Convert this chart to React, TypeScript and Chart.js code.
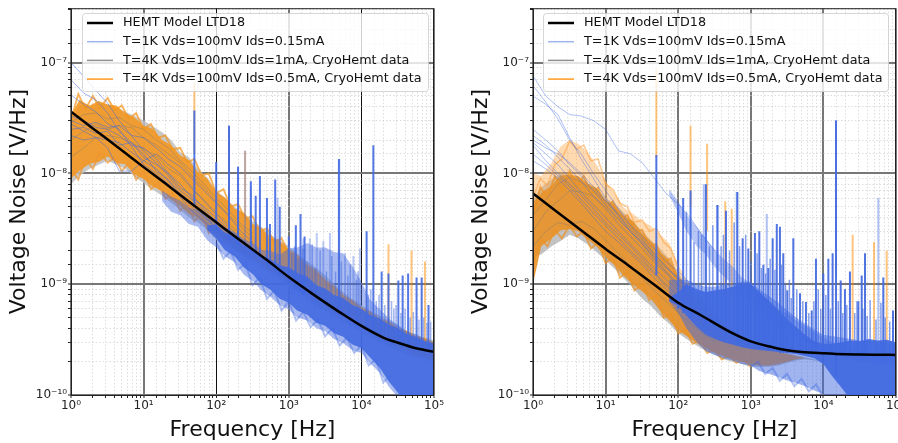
import React, { useEffect, useRef } from "react";
import { Chart, registerables } from "chart.js";

Chart.register(...registerables);

const FONT = "'DejaVu Sans', sans-serif";
const BLUE = "65,105,225";
const ORANGE = "255,140,0";
const GREY = "128,128,128";

const legendLabels = ["HEMT Model LTD18", "T=1K Vds=100mV Ids=0.15mA", "T=4K Vds=100mV Ids=1mA, CryoHemt data", "T=4K Vds=100mV Ids=0.5mA, CryoHemt data"];
const legendColors = ["#000000", "#a0b4f0", "#909090", "#ff9a20"];
const superscripts: Record<string, string> = { "0": "⁰", "1": "¹", "2": "²", "3": "³", "4": "⁴", "5": "⁵", "6": "⁶", "7": "⁷", "8": "⁸", "9": "⁹", "-": "⁻" };

// frequency grids
const bandFreq = [1, 1.3, 1.8, 2.4, 3.2, 4.2, 5.6, 7.5, 10, 13, 18, 24, 32, 42, 56, 75, 100, 130, 180, 240, 320, 420, 560, 750, 1e3, 1.3e3, 1.8e3, 2.4e3, 3.2e3, 4.2e3, 5.6e3, 7.5e3, 1e4, 1.3e4, 1.8e4, 2.4e4, 3.2e4, 4.2e4, 5.6e4, 7.5e4, 1e5];
const midFreq = [18, 24, 32, 42, 56, 75, 100, 130, 180, 240, 320, 420, 560, 750, 1e3, 1.3e3, 1.8e3, 2.4e3, 3.2e3, 4.2e3, 5.6e3, 7.5e3, 1e4, 1.3e4, 1.8e4, 2.4e4, 3.2e4, 4.2e4, 5.6e4, 7.5e4, 1e5];
const highFreq = [75, 100, 130, 180, 240, 320, 420, 560, 750, 1e3, 1.3e3, 1.8e3, 2.4e3, 3.2e3, 4.2e3, 5.6e3, 7.5e3, 1e4, 1.3e4, 1.8e4, 2.4e4, 3.2e4, 4.2e4, 5.6e4, 7.5e4, 1e5];
const traceFreq = [1, 1.5, 2.2, 3.2, 4.6, 6.8, 10, 15, 22, 32, 46, 68, 100, 150, 220, 320];
const modelFreq = [1, 2, 5, 10, 20, 50, 100, 200, 500, 1e3, 2e3, 3e3, 5e3, 1e4, 2e4, 3e4, 5e4, 1e5];
const lowFringeFreq = [1, 1.26, 1.58, 2, 2.5, 3.2, 4, 5, 6.3, 7.9, 10, 12.6, 15.8, 20, 25, 32, 40, 50, 63, 79, 100, 126, 158, 200, 251, 316, 398, 501, 631, 794, 1000];
const midFringeFreq = [100, 126, 158, 200, 251, 316, 398, 501, 631, 794, 1000, 1260, 1580, 2000, 2510, 3160, 3980, 5010, 6310, 7940, 1e4, 1.26e4, 1.58e4, 2e4, 2.5e4];
const rightFringeFreq = [1000, 1260, 1580, 2000, 2510, 3160, 3980, 5010, 6310, 7940, 1e4];

// left panel
const leftModel = [3.6e-8, 2.55e-8, 1.62e-8, 1.14e-8, 8.1e-9, 5.1e-9, 3.62e-9, 2.57e-9, 1.65e-9, 1.16e-9, 8.4e-10, 7e-10, 5.6e-10, 4.2e-10, 3.3e-10, 3e-10, 2.7e-10, 2.45e-10];
const leftGreyUpper = [3e-8, 4.2e-8, 4e-8, 4.3e-8, 4.2e-8, 3.9e-8, 3.6e-8, 3.3e-8, 3e-8, 2.7e-8, 2.35e-8, 2e-8, 1.55e-8, 1.4e-8, 1.1e-8, 9.2e-9, 7e-9, 6.1e-9, 5e-9, 4.4e-9, 3.7e-9, 3.3e-9, 2.8e-9, 2.5e-9, 2.2e-9, 1.9e-9, 1.6e-9, 1.4e-9, 1.2e-9, 1e-9, 8.5e-10, 7.3e-10, 6.5e-10, 5.8e-10, 5.2e-10, 4.7e-10, 4.2e-10, 3.8e-10, 3.5e-10, 3.3e-10, 3.1e-10];
const leftGreyLower = [8e-9, 9.5e-9, 1.1e-8, 1.2e-8, 1.3e-8, 1.2e-8, 1.1e-8, 9.4e-9, 8.2e-9, 7.2e-9, 6.3e-9, 5.4e-9, 4.7e-9, 4e-9, 3.6e-9, 3.1e-9, 2.5e-9, 2.3e-9, 2e-9, 1.8e-9, 1.6e-9, 1.4e-9, 1.25e-9, 1.1e-9, 9.5e-10, 8.5e-10, 7.5e-10, 6.5e-10, 5.8e-10, 5.2e-10, 4.6e-10, 4.1e-10, 3.7e-10, 3.3e-10, 3e-10, 2.7e-10, 2.5e-10, 2.3e-10, 2.2e-10, 2.1e-10, 2e-10];
const leftOrangeUpper = [3.3e-8, 4.6e-8, 4.1e-8, 4.5e-8, 4.2e-8, 4.1e-8, 3.5e-8, 3.2e-8, 2.7e-8, 2.55e-8, 2e-8, 1.8e-8, 1.45e-8, 1.32e-8, 1.03e-8, 9e-9, 6.8e-9, 6.1e-9, 4.8e-9, 4.4e-9, 3.5e-9, 3.2e-9, 2.65e-9, 2.45e-9, 2.05e-9, 1.85e-9, 1.5e-9, 1.33e-9, 1.1e-9, 9.7e-10, 8e-10, 7.2e-10, 6.2e-10, 5.7e-10, 4.9e-10, 4.6e-10, 4e-10, 3.8e-10, 3.4e-10, 3.25e-10, 3e-10];
const leftOrangeLower = [9e-9, 1.05e-8, 1.22e-8, 1.27e-8, 1.42e-8, 1.24e-8, 1.21e-8, 9.8e-9, 8.9e-9, 7.7e-9, 6.9e-9, 5.8e-9, 5.1e-9, 4.3e-9, 3.95e-9, 3.3e-9, 2.75e-9, 2.5e-9, 2.1e-9, 1.9e-9, 1.7e-9, 1.5e-9, 1.3e-9, 1.2e-9, 1e-9, 9e-10, 8e-10, 7e-10, 6.2e-10, 5.5e-10, 5e-10, 4.5e-10, 4e-10, 3.6e-10, 3.2e-10, 2.9e-10, 2.7e-10, 2.5e-10, 2.3e-10, 2.2e-10, 2e-10];
const leftOrangeTopFringe = [3e-8, 5.2e-8, 3.8e-8, 5e-8, 3.9e-8, 4.8e-8, 3.7e-8, 4.1e-8, 3.1e-8, 3.5e-8, 2.5e-8, 2.8e-8, 2.1e-8, 2.2e-8, 1.65e-8, 1.7e-8, 1.25e-8, 1.35e-8, 9.6e-9, 1e-8, 6.6e-9, 7.2e-9, 5e-9, 5.3e-9, 3.9e-9, 4.1e-9, 3e-9, 3.2e-9, 2.4e-9, 2.6e-9, 1.9e-9];
const leftOrangeLowFringe = [1.1e-8, 8.8e-9, 1.35e-8, 1.1e-8, 1.55e-8, 1.25e-8, 1.4e-8, 1.05e-8, 1.25e-8, 8.8e-9, 1.05e-8, 7.2e-9, 8.2e-9, 5.9e-9, 6.6e-9, 4.6e-9, 5.5e-9, 3.7e-9, 4.3e-9, 2.9e-9, 3.5e-9];
const leftBlueLowFringe = [2.4e-9, 1.7e-9, 2e-9, 1.35e-9, 1.55e-9, 9.8e-10, 1.15e-9, 7.4e-10, 8.8e-10, 5.8e-10, 7e-10, 4.7e-10, 5.6e-10, 4.1e-10, 4.8e-10, 3.4e-10, 4e-10, 2.8e-10, 3.3e-10, 2.4e-10, 2.8e-10, 1.85e-10, 2.1e-10, 1.3e-10, 1.5e-10];
const leftLightUpper = [7e-9, 6.2e-9, 5.7e-9, 4.9e-9, 4.7e-9, 4e-9, 3.85e-9, 3.25e-9, 2.95e-9, 2.55e-9, 2.35e-9, 2.05e-9, 2e-9, 1.85e-9, 2.1e-9, 2.15e-9, 2.35e-9, 2.15e-9, 2.15e-9, 1.95e-9, 1.9e-9, 1.45e-9, 1.05e-9, 7.3e-10, 5.9e-10, 4.9e-10, 4.3e-10, 3.7e-10, 3.55e-10, 3.15e-10, 3e-10];
const leftLightLower = [5.6e-9, 4.5e-9, 4.2e-9, 3.5e-9, 3.3e-9, 2.5e-9, 2.15e-9, 1.8e-9, 1.58e-9, 1.22e-9, 1.07e-9, 8.8e-10, 7.7e-10, 6.5e-10, 5.9e-10, 5e-10, 4.7e-10, 4e-10, 3.75e-10, 3.2e-10, 2.95e-10, 2.55e-10, 2.4e-10, 1.95e-10, 1.58e-10, 1.18e-10, 9.5e-11, 7e-11, 5.5e-11, 4.5e-11, 4e-11];
const leftDenseUpper = [3.4e-9, 3.45e-9, 2.95e-9, 2.65e-9, 2.25e-9, 2.08e-9, 1.82e-9, 1.68e-9, 1.48e-9, 1.42e-9, 1.27e-9, 1.17e-9, 9.8e-10, 9.1e-10, 8e-10, 7.5e-10, 6.5e-10, 6e-10, 5.3e-10, 4.9e-10, 4.3e-10, 4e-10, 3.55e-10, 3.35e-10, 3.05e-10, 2.9e-10];
const leftDenseLower = [3.1e-9, 2.6e-9, 2.05e-9, 1.78e-9, 1.42e-9, 1.23e-9, 1e-9, 8.9e-10, 7.4e-10, 6.8e-10, 5.8e-10, 5.3e-10, 4.5e-10, 4.2e-10, 3.6e-10, 3.35e-10, 2.85e-10, 2.65e-10, 2.2e-10, 1.75e-10, 1.32e-10, 1.05e-10, 7.8e-11, 6e-11, 5e-11, 4.2e-11];
const leftBlueTraces = [
  [1e-7, 7.5e-8, 5.6e-8, 4.3e-8, 3e-8, 2.2e-8, 1.6e-8, 1.25e-8, 9.5e-9, 7e-9, 5.8e-9, 4.6e-9, 3.6e-9, 2.8e-9, 2.3e-9, 1.9e-9],
  [7e-8, 5.3e-8, 4.6e-8, 3.5e-8, 2.4e-8, 1.9e-8, 1.5e-8, 1.05e-8, 8.8e-9, 6.6e-9, 5.4e-9, 4.2e-9, 3.2e-9, 2.6e-9, 2.1e-9, 1.7e-9],
  [5.1e-8, 4.2e-8, 3.6e-8, 2.8e-8, 2.5e-8, 1.75e-8, 1.2e-8, 1e-8, 8e-9, 6.1e-9, 4.6e-9, 3.7e-9, 3e-9, 2.4e-9, 1.9e-9, 1.5e-9],
  [3.3e-8, 3e-8, 2.6e-8, 2.5e-8, 2.2e-8, 1.8e-8, 1.7e-8, 1.35e-8, 1e-8, 8e-9, 6e-9, 5e-9, 4e-9, 3.1e-9, 2.5e-9, 2e-9],
  [2.8e-8, 2.4e-8, 2.1e-8, 1.7e-8, 1.05e-8, 1.05e-8, 1.3e-8, 1.1e-8, 8.5e-9, 6.3e-9, 5e-9, 4.1e-9, 3.2e-9, 2.5e-9, 2e-9, 1.6e-9],
  [2.2e-8, 2e-8, 2.1e-8, 2e-8, 1.9e-8, 1.55e-8, 1.3e-8, 1.5e-8, 1.2e-8, 1e-8, 7.5e-9, 5.6e-9, 4.3e-9, 3.3e-9, 2.6e-9, 2.1e-9],
  [3e-8, 2.7e-8, 2.9e-8, 2.6e-8, 2.7e-8, 2.2e-8, 2.1e-8, 1.7e-8, 1.35e-8, 1.15e-8, 9e-9, 7e-9, 5.4e-9, 4.1e-9, 3e-9, 2.4e-9],
  [2.5e-8, 2.6e-8, 2.3e-8, 2.4e-8, 1.8e-8, 1.9e-8, 1.4e-8, 1.2e-8, 1e-8, 7.4e-9, 6.4e-9, 4.8e-9, 3.7e-9, 3e-9, 2.2e-9, 1.8e-9],
];
const leftGreyTraces = [
  [2e-8, 2.4e-8, 2.8e-8, 2.5e-8, 2.7e-8, 2.6e-8, 2.1e-8, 1.8e-8, 1.5e-8, 1.25e-8, 9.5e-9, 7.5e-9, 5.5e-9, 4.2e-9, 3.3e-9, 2.6e-9],
  [1.4e-8, 1.7e-8, 2.1e-8, 2.2e-8, 2.1e-8, 1.9e-8, 1.65e-8, 1.45e-8, 1.1e-8, 9.5e-9, 7.2e-9, 5.8e-9, 4.4e-9, 3.5e-9, 2.8e-9, 2.2e-9],
  [2.9e-8, 3.4e-8, 3.5e-8, 3.1e-8, 3.2e-8, 2.7e-8, 2.5e-8, 2e-8, 1.7e-8, 1.3e-8, 1.05e-8, 8e-9, 6e-9, 4.6e-9, 3.5e-9, 2.9e-9],
];
const leftBlueSpikeFreq = [50, 100, 150, 200, 300, 350, 400, 500, 550, 650, 750, 1000, 1250, 1450, 1650, 4900, 11800, 14600, 19000, 23600, 32300, 37000, 44000, 57500, 67600, 84000];
const leftBlueSpikePeak = [3.7e-8, 1.27e-8, 2.7e-8, 1.15e-8, 8.5e-9, 6.3e-9, 9.5e-9, 6e-9, 3.5e-9, 8.8e-9, 5e-9, 2.7e-9, 3.4e-9, 4.3e-9, 2.7e-9, 1.35e-8, 3e-9, 1.8e-8, 1.3e-9, 1.25e-9, 1.08e-9, 1.2e-9, 1.25e-9, 1.15e-9, 1.15e-9, 6.5e-10];
const leftBlueSpikeBase = [5e-9, 3e-9, 2.5e-9, 2.2e-9, 2e-9, 1.8e-9, 1.7e-9, 1.5e-9, 1.4e-9, 1.3e-9, 1.2e-9, 1e-9, 9e-10, 8.5e-10, 8e-10, 6e-10, 4e-10, 3.8e-10, 3.5e-10, 3.3e-10, 3e-10, 2.9e-10, 2.8e-10, 2.7e-10, 2.6e-10, 2.5e-10];
const leftLightSpikeFreq = [1585, 1950, 2430, 2990, 3690, 4970, 5940, 7760, 9560, 150, 200, 250, 300, 700];
const leftLightSpikePeak = [2.6e-9, 2.6e-9, 2.9e-9, 2.45e-9, 2.9e-9, 1.35e-8, 1.9e-9, 1.8e-9, 2.1e-9, 2.7e-8, 1.15e-8, 1.6e-8, 7.5e-9, 6e-9];
const leftLightSpikeBase = [8e-10, 8e-10, 8e-10, 7e-10, 7e-10, 6e-10, 6e-10, 6e-10, 5e-10, 2.5e-9, 2.2e-9, 2e-9, 1.9e-9, 1.2e-9];
const leftOrangeSpikeFreq = [50, 150, 250, 23600, 49000, 75000, 1e5];
const leftOrangeSpikePeak = [6.6e-8, 2.7e-8, 1.6e-8, 2.3e-9, 2e-9, 1.6e-9, 1e-8];
const leftOrangeSpikeBase = [1.5e-8, 6e-9, 4e-9, 4e-10, 3.5e-10, 3e-10, 1e-10];
const leftExtraFreq = [1100, 1200, 1350, 1550, 1800, 2100, 2300, 2700, 3300, 3900, 4400, 5300, 6500, 7000, 8500, 9000, 12500, 13500, 16000, 17500, 21000, 26000, 28000, 30000, 35000, 40000, 47000, 52000, 62000, 72000, 80000, 90000];
const leftExtraPeak = [1.9e-9, 2.2e-9, 1.7e-9, 2.1e-9, 1.6e-9, 2.3e-9, 1.4e-9, 2e-9, 1.3e-9, 1.8e-9, 1.3e-9, 1.6e-9, 1.2e-9, 1.5e-9, 1.1e-9, 1.3e-9, 8e-10, 9e-10, 7e-10, 8e-10, 6.5e-10, 7e-10, 6e-10, 6.5e-10, 5.5e-10, 6e-10, 5e-10, 5.6e-10, 4.8e-10, 5e-10, 4.5e-10, 4.6e-10];
const leftExtraBase = [8e-10, 8e-10, 7.5e-10, 7.5e-10, 7e-10, 6.5e-10, 6e-10, 6e-10, 5.5e-10, 5e-10, 5e-10, 4.5e-10, 4.5e-10, 4e-10, 4e-10, 3.8e-10, 3.5e-10, 3.5e-10, 3.2e-10, 3e-10, 3e-10, 2.8e-10, 2.8e-10, 2.8e-10, 2.6e-10, 2.6e-10, 2.5e-10, 2.5e-10, 2.4e-10, 2.4e-10, 2.3e-10, 2.3e-10];

// right panel
const rightModel = [6.6e-9, 4.65e-9, 2.95e-9, 2.08e-9, 1.5e-9, 9.6e-10, 6.8e-10, 5.3e-10, 3.75e-10, 3.05e-10, 2.7e-10, 2.55e-10, 2.45e-10, 2.38e-10, 2.33e-10, 2.32e-10, 2.31e-10, 2.3e-10];
const rightGreyUpper = [6e-9, 7.5e-9, 8.8e-9, 1e-8, 9.6e-9, 9.3e-9, 7.9e-9, 7.3e-9, 6e-9, 5.4e-9, 4.4e-9, 3.7e-9, 3e-9, 2.5e-9, 2.1e-9, 1.7e-9, 1.25e-9, 1e-9, 7.8e-10, 6.2e-10, 5.2e-10, 4.5e-10, 4e-10, 3.5e-10, 3.1e-10, 2.9e-10, 2.7e-10, 2.5e-10, 2.4e-10, 2.3e-10, 2.2e-10, 2.1e-10, 2e-10, 1.9e-10, 1.8e-10, 1.7e-10, 1.6e-10, 1.55e-10, 1.5e-10, 1.45e-10, 1.4e-10];
const rightGreyLower = [1.8e-9, 1.85e-9, 2.2e-9, 2.45e-9, 2.8e-9, 2.6e-9, 2.3e-9, 1.95e-9, 1.65e-9, 1.4e-9, 1.12e-9, 9.2e-10, 7.4e-10, 6.4e-10, 5.2e-10, 4.4e-10, 3.6e-10, 3.2e-10, 2.8e-10, 2.5e-10, 2.3e-10, 2.1e-10, 2e-10, 1.9e-10, 1.8e-10, 1.8e-10, 1.8e-10, 1.85e-10, 1.95e-10, 2.05e-10, 2.1e-10, 2.05e-10, 2e-10, 1.9e-10, 1.8e-10, 1.7e-10, 1.6e-10, 1.55e-10, 1.5e-10, 1.45e-10, 1.4e-10];
const rightOrangeUpper = [5.5e-9, 6.7e-9, 7.8e-9, 9.6e-9, 9.8e-9, 9.5e-9, 8.2e-9, 7.4e-9, 5.7e-9, 5.3e-9, 4.1e-9, 3.7e-9, 2.85e-9, 2.45e-9, 1.95e-9, 1.65e-9, 1.18e-9, 9.7e-10, 7.4e-10, 6.1e-10, 4.9e-10, 4.5e-10, 3.75e-10, 3.4e-10, 3e-10, 2.8e-10, 2.6e-10, 2.45e-10, 2.35e-10, 2.25e-10, 2.15e-10, 2.05e-10, 1.95e-10, 1.8e-10, 1.7e-10, 1.6e-10, 1.5e-10, 1.45e-10, 1.4e-10, 1.35e-10, 1.3e-10];
const rightOrangeLower = [1e-9, 2.2e-9, 2.6e-9, 3.05e-9, 3.15e-9, 3e-9, 2.55e-9, 2.2e-9, 1.75e-9, 1.5e-9, 1.18e-9, 9.9e-10, 8.6e-10, 7.4e-10, 5.8e-10, 4.7e-10, 3.85e-10, 3.4e-10, 2.95e-10, 2.65e-10, 2.4e-10, 2.25e-10, 2.1e-10, 2e-10, 1.9e-10, 1.85e-10, 1.85e-10, 1.9e-10, 2e-10, 2.1e-10, 2.15e-10, 2.05e-10, 1.95e-10, 1.8e-10, 1.7e-10, 1.6e-10, 1.5e-10, 1.45e-10, 1.4e-10, 1.35e-10, 1.3e-10];
const rightPaleOrangeUpper = [1e-8, 9.5e-9, 1.25e-8, 1.75e-8, 2e-8, 1.85e-8, 1.55e-8, 1.2e-8, 8.6e-9, 6.8e-9, 4.9e-9, 4.3e-9, 3.7e-9, 3.35e-9, 2.8e-9, 2.35e-9, 1.5e-9, 1.1e-9, 8.5e-10, 6.8e-10, 5.5e-10, 4.6e-10, 3.9e-10, 3.4e-10, 3e-10, 2.8e-10, 2.6e-10, 2.45e-10, 2.35e-10, 2.25e-10, 2.15e-10, 2.05e-10, 1.95e-10, 1.8e-10, 1.7e-10, 1.6e-10, 1.5e-10, 1.45e-10, 1.4e-10, 1.35e-10, 1.3e-10];
const rightOrangeTopFringe = [4e-9, 7.5e-9, 6e-9, 9.5e-9, 7e-9, 1.05e-8, 7.5e-9, 9.5e-9, 6.5e-9, 7.4e-9, 4.8e-9, 5.6e-9, 3.9e-9, 4.2e-9, 3e-9, 3.1e-9, 2.2e-9, 2.3e-9, 1.6e-9, 1.7e-9, 1.05e-9];
const rightOrangeLowFringe = [1.5e-9, 2.6e-9, 2.2e-9, 3.1e-9, 2.6e-9, 3.4e-9, 2.7e-9, 3e-9, 2.1e-9, 2.4e-9, 1.55e-9, 1.75e-9, 1.15e-9, 1.3e-9, 8.8e-10, 1e-9, 7.2e-10, 8e-10, 5e-10, 5.4e-10, 3.6e-10, 3.9e-10, 2.9e-10, 3.1e-10, 2.4e-10, 2.6e-10, 2.1e-10, 2.3e-10, 1.95e-10, 2.1e-10, 1.8e-10];
const rightPaleTrace = [6e-9, 9e-9, 7.8e-9, 1.2e-8, 1.35e-8, 1.95e-8, 1.65e-8, 1.8e-8, 1.3e-8, 1.35e-8, 8e-9, 7.2e-9, 5.4e-9, 5e-9, 3.6e-9, 3.8e-9, 3e-9, 3.2e-9, 2.4e-9, 2.1e-9, 1.4e-9];
const rightBlueLowFringe = [1.8e-10, 2e-10, 1.55e-10, 1.75e-10, 1.35e-10, 1.55e-10, 1.2e-10, 1.4e-10, 1.08e-10, 1.25e-10, 9.5e-11];
const rightTraceBandUpper = [7.2e-9, 5.6e-9, 4.2e-9, 3.3e-9, 2.6e-9, 2.05e-9, 1.7e-9, 1.45e-9, 1.15e-9, 1.02e-9, 8.6e-10, 7.1e-10, 6e-10, 5.4e-10, 4.7e-10, 4.2e-10, 3.7e-10, 3.3e-10, 3e-10, 2.8e-10, 2.6e-10, 2.5e-10, 2.4e-10, 2.35e-10, 2.3e-10, 2.3e-10];
const rightTraceBandLower = [6.4e-9, 4.4e-9, 3e-9, 2.2e-9, 1.85e-9, 1.42e-9, 1.18e-9, 1e-9, 8e-10, 7e-10, 5.9e-10, 5e-10, 4.2e-10, 3.8e-10, 3.3e-10, 3e-10, 2.7e-10, 2.5e-10, 2.3e-10, 2.2e-10, 2.1e-10, 2e-10, 2e-10, 1.9e-10, 1.9e-10, 1.9e-10];
const rightLightUpper = [1.1e-9, 1.1e-9, 1.1e-9, 1e-9, 9.5e-10, 9.5e-10, 1e-9, 1e-9, 1.05e-9, 1.05e-9, 9e-10, 7.8e-10, 6.8e-10, 5.8e-10, 5e-10, 4.4e-10, 3.9e-10, 3.5e-10, 3.4e-10, 3.3e-10, 3.2e-10, 3.1e-10, 3.1e-10, 3e-10, 3e-10, 2.9e-10];
const rightLightLower = [7e-10, 5.5e-10, 4e-10, 3e-10, 2.5e-10, 2.3e-10, 2.15e-10, 2.05e-10, 1.9e-10, 1.85e-10, 1.65e-10, 1.55e-10, 1.45e-10, 1.35e-10, 1.28e-10, 1.2e-10, 1.1e-10, 1.02e-10, 8.8e-11, 7.5e-11, 6e-11, 5e-11, 4.5e-11, 4e-11, 4e-11, 4e-11];
const rightDenseUpper = [7.5e-10, 8.5e-10, 1e-9, 9e-10, 8.5e-10, 8.8e-10, 9e-10, 9.5e-10, 1e-9, 1e-9, 8.5e-10, 7e-10, 5.8e-10, 4.8e-10, 4.1e-10, 3.5e-10, 3.05e-10, 2.9e-10, 2.9e-10, 3e-10, 3.1e-10, 3.05e-10, 3.2e-10, 3.1e-10, 3.15e-10, 3e-10];
const rightDenseLower = [7e-10, 6.4e-10, 5.2e-10, 4.1e-10, 3.5e-10, 3.2e-10, 3e-10, 2.85e-10, 2.7e-10, 2.6e-10, 2.55e-10, 2.5e-10, 2.45e-10, 2.4e-10, 2.35e-10, 2.25e-10, 2.15e-10, 1.9e-10, 1.5e-10, 1.15e-10, 9e-11, 7e-11, 6e-11, 5e-11, 5e-11, 5e-11];
const rightBlueTraces = [
  [7.6e-8, 5e-8, 4e-8, 3.4e-8, 3.3e-8, 3e-8, 2.5e-8, 1.6e-8, 1.5e-8, 1.25e-8, 9.2e-9, 6.6e-9, 5.3e-9, 3.9e-9, 2.7e-9, 2e-9],
  [6.2e-8, 4.4e-8, 3.1e-8, 2e-8, 1.5e-8, 1e-8, 7e-9, 4.8e-9, 3.4e-9, 2.7e-9, 2.1e-9, 1.6e-9, 1.3e-9, 1e-9, 8.2e-10, 6.8e-10],
  [5e-8, 4.2e-8, 3.4e-8, 2.1e-8, 1.35e-8, 9e-9, 6e-9, 4.2e-9, 3e-9, 2.4e-9, 1.8e-9, 1.4e-9, 1.15e-9, 9e-10, 7.4e-10, 6.2e-10],
  [2.5e-8, 2e-8, 1.6e-8, 1.2e-8, 9.5e-9, 7e-9, 5.2e-9, 3.9e-9, 3e-9, 2.3e-9, 1.7e-9, 1.3e-9, 1e-9, 8e-10, 6.6e-10, 5.6e-10],
  [2.2e-8, 1.8e-8, 1.4e-8, 1.1e-8, 8.5e-9, 6.2e-9, 4.8e-9, 3.5e-9, 2.7e-9, 2.1e-9, 1.6e-9, 1.25e-9, 9.5e-10, 7.6e-10, 6.2e-10, 5.2e-10],
  [2e-8, 1.7e-8, 1.5e-8, 1.25e-8, 1e-8, 7.6e-9, 5.6e-9, 4.2e-9, 3.2e-9, 2.5e-9, 1.9e-9, 1.45e-9, 1.1e-9, 8.6e-10, 7e-10, 5.8e-10],
  [1.9e-8, 1.5e-8, 1.2e-8, 9e-9, 6.8e-9, 5.2e-9, 4e-9, 3e-9, 2.3e-9, 1.8e-9, 1.4e-9, 1.1e-9, 8.8e-10, 7e-10, 5.8e-10, 4.8e-10],
  [1.8e-8, 1.3e-8, 1e-8, 8e-9, 6.4e-9, 4.8e-9, 3.6e-9, 2.8e-9, 2.2e-9, 1.7e-9, 1.3e-9, 1e-9, 8e-10, 6.4e-10, 5.4e-10, 4.6e-10],
  [1.5e-8, 1.2e-8, 9.5e-9, 7.6e-9, 5.8e-9, 4.4e-9, 3.4e-9, 2.6e-9, 2e-9, 1.6e-9, 1.25e-9, 9.6e-10, 7.6e-10, 6.2e-10, 5.2e-10, 4.4e-10],
  [1.3e-8, 1.1e-8, 9e-9, 7e-9, 5.4e-9, 4e-9, 3e-9, 2.4e-9, 1.9e-9, 1.5e-9, 1.15e-9, 9e-10, 7.2e-10, 5.8e-10, 4.8e-10, 4.2e-10],
];
const rightGreyTraces = [
  [3e-9, 4.5e-9, 5.6e-9, 7e-9, 6.8e-9, 6.2e-9, 5e-9, 3.8e-9, 3e-9, 2.3e-9, 1.75e-9, 1.3e-9, 1e-9, 7.5e-10, 6e-10, 4.8e-10],
  [4.2e-9, 5.8e-9, 8e-9, 9.2e-9, 8.4e-9, 7e-9, 5.6e-9, 4.4e-9, 3.4e-9, 2.6e-9, 1.9e-9, 1.45e-9, 1.1e-9, 8.2e-10, 6.4e-10, 5.2e-10],
  [2.2e-9, 3e-9, 3.6e-9, 3.4e-9, 3.7e-9, 3.2e-9, 2.5e-9, 1.9e-9, 1.45e-9, 1.15e-9, 8.8e-10, 7e-10, 5.5e-10, 4.4e-10, 3.6e-10, 3e-10],
];
const rightBlueSpikeFreq = [50, 100, 117, 148, 241, 346, 455, 653, 773, 925, 1140, 1310, 1490, 1740, 2000, 2280, 2520, 2800, 3180, 3850, 4760, 5750, 6900, 7900, 9970, 11700, 13400, 14900, 17300, 19800, 23200, 30300, 33700, 37400, 66800, 91000];
const rightBlueSpikePeak = [1.47e-8, 5.2e-9, 6e-9, 7e-9, 8e-9, 5.2e-9, 4.6e-9, 6.8e-9, 2.6e-9, 2.1e-9, 2.9e-9, 3e-9, 1.5e-9, 1.4e-9, 2.6e-9, 3.5e-9, 3.3e-9, 1.9e-9, 8.8e-10, 2.6e-9, 8.3e-10, 6.9e-10, 5.8e-10, 1.7e-9, 1.25e-9, 1.7e-9, 1.9e-9, 3e-8, 1.08e-9, 9e-10, 1.3e-9, 7e-10, 1.2e-9, 1.9e-9, 1.15e-9, 5.8e-10];
const rightBlueSpikeBase = [1.2e-9, 6e-10, 5.5e-10, 5e-10, 4.2e-10, 3.8e-10, 3.4e-10, 3e-10, 2.9e-10, 2.8e-10, 2.7e-10, 2.6e-10, 2.6e-10, 2.5e-10, 2.5e-10, 2.5e-10, 2.4e-10, 2.4e-10, 2.4e-10, 2.4e-10, 2.4e-10, 2.4e-10, 2.3e-10, 2.3e-10, 2.3e-10, 2.3e-10, 2.3e-10, 1.5e-10, 2.3e-10, 2.3e-10, 2.3e-10, 2.3e-10, 2.3e-10, 2.3e-10, 2.3e-10, 2.3e-10];
const rightLightSpikeFreq = [225, 350, 640, 1660, 57100, 14900];
const rightLightSpikePeak = [8e-9, 5.2e-9, 6.8e-9, 4.3e-9, 6e-9, 3e-8];
const rightLightSpikeBase = [1e-9, 8e-10, 5e-10, 3e-10, 2.3e-10, 1.2e-9];
const rightOrangeSpikeFreq = [50, 148, 250, 445, 546, 25300, 49800, 74500, 1e5];
const rightOrangeSpikePeak = [8.7e-8, 2.7e-8, 1.85e-8, 5.6e-9, 4.8e-9, 2.8e-9, 2.4e-9, 2e-9, 1e-8];
const rightOrangeSpikeBase = [1.4e-8, 5e-9, 3e-9, 8e-10, 7e-10, 3e-10, 3e-10, 3e-10, 1e-10];
const rightExtraFreq = [130, 165, 190, 210, 270, 300, 390, 420, 510, 590, 700, 850, 1000, 1220, 1400, 1600, 1850, 2150, 2650, 3000, 3400, 3600, 4300, 5200, 6300, 7400, 8500, 9200, 10800, 12500, 16000, 18500, 21000, 27000, 29000, 35000, 40000, 44000, 53000, 62000, 71000, 82000];
const rightExtraPeak = [4.5e-9, 2.4e-9, 3e-9, 2.8e-9, 2.2e-9, 3.4e-9, 2.2e-9, 2.8e-9, 2e-9, 3.6e-9, 2.2e-9, 2.8e-9, 1.6e-9, 1.9e-9, 1.4e-9, 1.25e-9, 1.7e-9, 1.35e-9, 1.5e-9, 1e-9, 1.1e-9, 7.5e-10, 9e-10, 7e-10, 5.5e-10, 7e-10, 9e-10, 6e-10, 8e-10, 6e-10, 7e-10, 5.5e-10, 6.5e-10, 5.5e-10, 7e-10, 6e-10, 5.2e-10, 7.2e-10, 4.8e-10, 6.8e-10, 5e-10, 4.6e-10];
const rightExtraBase = [6e-10, 5.5e-10, 5e-10, 5e-10, 4.5e-10, 4.5e-10, 4e-10, 4e-10, 3.5e-10, 3.5e-10, 3.2e-10, 3e-10, 3e-10, 2.8e-10, 2.8e-10, 2.7e-10, 2.6e-10, 2.6e-10, 2.5e-10, 2.5e-10, 2.5e-10, 2.5e-10, 2.4e-10, 2.4e-10, 2.4e-10, 2.4e-10, 2.4e-10, 2.4e-10, 2.4e-10, 2.4e-10, 2.4e-10, 2.4e-10, 2.4e-10, 2.4e-10, 2.4e-10, 2.4e-10, 2.4e-10, 2.4e-10, 2.4e-10, 2.4e-10, 2.4e-10, 2.4e-10];

const pts = (xs: number[], ys: number[]) => ys.map((y, i) => ({ x: xs[i], y }));
const line = (xs: number[], ys: number[], color: string, width = 1) => ({ type: "line", data: pts(xs, ys), borderColor: color, borderWidth: width, pointRadius: 0, fill: false, tension: 0 });
const model = (ys: number[]) => ({ type: "line", data: pts(modelFreq, ys), borderColor: "#000", borderWidth: 2.5, pointRadius: 0, fill: false, cubicInterpolationMode: "monotone" });
// Chart.js paints the last dataset first: lists are written back-to-front and reversed below, so a band's upper edge fills to the lower edge that precedes it after reversal.
const band = (xs: number[], upper: number[], lower: number[], rgb: string, alpha: number) => [
  { type: "line", data: pts(xs, upper), borderWidth: 0, pointRadius: 0, tension: 0, fill: "-1", backgroundColor: `rgba(${rgb},${alpha})` },
  { type: "line", data: pts(xs, lower), borderWidth: 0, pointRadius: 0, tension: 0, fill: false },
];
const spikes = (fs: number[], peaks: number[], bases: number[], color: string, width: number) => ({
  type: "line",
  data: fs.flatMap((f, i) => [{ x: f, y: bases[i] }, { x: f, y: peaks[i] }, { x: f, y: null }]),
  borderColor: color, borderWidth: width, pointRadius: 0, fill: false, spanGaps: false, tension: 0,
});

const leftDatasets = () => [
  ...band(bandFreq, leftGreyUpper, leftGreyLower, "190,190,190", 0.85),
  ...leftGreyTraces.map((t) => line(traceFreq, t, `rgba(${GREY},0.5)`)),
  ...band(bandFreq, leftOrangeUpper, leftOrangeLower, "245,150,30", 0.88),
  line(lowFringeFreq, leftOrangeTopFringe, "rgba(245,150,30,0.7)", 2),
  line(lowFringeFreq, leftOrangeLowFringe, "rgba(240,150,50,0.7)", 2),
  ...leftGreyTraces.map((t) => line(traceFreq, t, `rgba(${GREY},0.4)`)),
  ...leftBlueTraces.map((t) => line(traceFreq, t, `rgba(${BLUE},0.5)`)),
  spikes(leftOrangeSpikeFreq, leftOrangeSpikePeak, leftOrangeSpikeBase, `rgba(${ORANGE},0.5)`, 2),
  spikes(leftLightSpikeFreq, leftLightSpikePeak, leftLightSpikeBase, `rgba(${BLUE},0.35)`, 2),
  ...band(midFreq, leftLightUpper, leftLightLower, BLUE, 0.45),
  line(midFringeFreq, leftBlueLowFringe, `rgba(${BLUE},0.4)`, 2),
  spikes(leftExtraFreq, leftExtraPeak, leftExtraBase, `rgba(${BLUE},0.5)`, 1.5),
  ...band(highFreq, leftDenseUpper, leftDenseLower, BLUE, 0.9),
  spikes(leftBlueSpikeFreq, leftBlueSpikePeak, leftBlueSpikeBase, `rgba(${BLUE},0.9)`, 2),
  model(leftModel),
].reverse();
const rightDatasets = () => [
  ...band(bandFreq, rightGreyUpper, rightGreyLower, "170,170,170", 0.7),
  ...rightGreyTraces.map((t) => line(traceFreq, t, `rgba(${GREY},0.5)`)),
  ...band(bandFreq, rightPaleOrangeUpper, rightOrangeUpper, "255,170,80", 0.45),
  line(lowFringeFreq, rightPaleTrace, "rgba(255,160,60,0.55)", 1.5),
  ...band(bandFreq, rightOrangeUpper, rightOrangeLower, "235,145,35", 0.88),
  line(lowFringeFreq, rightOrangeTopFringe, "rgba(235,145,35,0.7)", 2),
  line(lowFringeFreq, rightOrangeLowFringe, "rgba(235,145,35,0.7)", 2),
  ...rightGreyTraces.map((t) => line(traceFreq, t, `rgba(${GREY},0.4)`)),
  ...rightBlueTraces.map((t) => line(traceFreq, t, `rgba(${BLUE},0.42)`)),
  spikes(rightOrangeSpikeFreq, rightOrangeSpikePeak, rightOrangeSpikeBase, `rgba(${ORANGE},0.5)`, 2),
  spikes(rightLightSpikeFreq, rightLightSpikePeak, rightLightSpikeBase, `rgba(${BLUE},0.42)`, 2),
  ...band(highFreq, rightTraceBandUpper, rightTraceBandLower, BLUE, 0.38),
  ...band(highFreq, rightLightUpper, rightLightLower, BLUE, 0.5),
  line(rightFringeFreq, rightBlueLowFringe, `rgba(${BLUE},0.4)`, 2),
  spikes(rightExtraFreq, rightExtraPeak, rightExtraBase, `rgba(${BLUE},0.65)`, 1.5),
  ...band(highFreq, rightDenseUpper, rightDenseLower, BLUE, 0.92),
  spikes(rightBlueSpikeFreq, rightBlueSpikePeak, rightBlueSpikeBase, `rgba(${BLUE},0.92)`, 2),
  model(rightModel),
].reverse();

const isDecade = (v: number) => Math.abs(Math.log10(v) - Math.round(Math.log10(v))) < 1e-6;
const decadeLabel = (v: number) => isDecade(v) ? "10" + String(Math.round(Math.log10(v))).split("").map((c) => superscripts[c]).join("") : "";

type PanelProps = { left: number; width: number; axisWidth: number; padRight: number; thin: number[]; legendBox: number[]; datasets: () => any[]; titlePad: number };

const framePlugin = (p: PanelProps) => ({
  id: "frame",
  afterDraw(chart: any) {
    const { ctx, chartArea: a } = chart;
    const [bx, by, bw, bh] = p.legendBox;
    ctx.save();
    ctx.strokeStyle = "#222"; ctx.lineWidth = 1;
    ctx.strokeRect(a.left + 0.5, a.top + 0.5, a.right - a.left - 1, a.bottom - a.top);
    ctx.beginPath(); ctx.roundRect(bx + 0.5, by + 0.5, bw, bh, 3);
    ctx.fillStyle = "rgba(255,255,255,0.8)"; ctx.fill();
    ctx.strokeStyle = "rgba(204,204,204,0.8)"; ctx.stroke();
    ctx.font = `12.75px ${FONT}`; ctx.textBaseline = "middle"; ctx.textAlign = "left";
    legendLabels.forEach((label, i) => {
      const y = by + 10 + i * 18.7;
      ctx.strokeStyle = legendColors[i]; ctx.lineWidth = i === 0 ? 2.5 : 1.5;
      ctx.beginPath(); ctx.moveTo(bx + 5, y); ctx.lineTo(bx + 31, y); ctx.stroke();
      ctx.fillStyle = "#111"; ctx.fillText(label, bx + 41, y);
    });
    ctx.restore();
  },
});

function Panel(p: PanelProps) {
  const ref = useRef<HTMLCanvasElement>(null);
  useEffect(() => {
    const scaleBase = {
      type: "logarithmic",
      border: { display: false, dash: (c: any) => (c.tick && isDecade(c.tick.value) ? [] : [1.5, 2]) },
    };
    const gridColor = (c: any) => (c.tick && isDecade(c.tick.value) ? "#777" : "rgba(205,205,205,0.7)");
    const chart = new Chart(ref.current as HTMLCanvasElement, {
      type: "line",
      data: { datasets: p.datasets() as any },
      options: {
        animation: false, responsive: false,
        layout: { padding: { top: 5, right: p.padRight, left: 0, bottom: 0 } },
        plugins: { legend: { display: false }, tooltip: { enabled: false } },
        scales: {
          x: {
            ...scaleBase, min: 1, max: 1e5,
            title: { display: true, text: "Frequency [Hz]", color: "#111", font: { family: FONT, size: 22 }, padding: { top: 2, bottom: 0 } },
            ticks: { autoSkip: false, maxRotation: 0, minRotation: 0, padding: 1, color: "#222", font: { family: FONT, size: 12 }, callback: (v: any) => decadeLabel(Number(v)) },
            grid: {
              color: (c: any) => (c.tick && isDecade(c.tick.value) && p.thin.includes(Math.round(Math.log10(c.tick.value))) ? "#111" : gridColor(c)),
              lineWidth: (c: any) => (c.tick && isDecade(c.tick.value) ? (p.thin.includes(Math.round(Math.log10(c.tick.value))) ? 1 : 2) : 1),
              tickColor: "#222", tickLength: 3, tickWidth: 1, tickBorderDash: [],
            },
            afterFit: (s: any) => { s.height = 48; },
          },
          y: {
            ...scaleBase, min: 1e-10, max: 3.1e-7,
            title: { display: true, text: "Voltage Noise [V/Hz]", color: "#111", font: { family: FONT, size: 22 }, padding: { top: p.titlePad, bottom: 0 } },
            ticks: { autoSkip: false, maxRotation: 0, minRotation: 0, padding: 1, color: "#222", font: { family: FONT, size: 12 }, callback: (v: any) => decadeLabel(Number(v)) },
            grid: { color: gridColor, lineWidth: (c: any) => (c.tick && isDecade(c.tick.value) ? 2 : 1), tickColor: "#222", tickLength: 3, tickWidth: 1, tickBorderDash: [] },
            afterFit: (s: any) => { s.width = p.axisWidth; },
          },
        },
      } as any,
      plugins: [framePlugin(p)],
    });
    return () => chart.destroy();
  }, []);
  return <canvas ref={ref} width={p.width} height={443} style={{ position: "absolute", left: p.left, top: 0, display: "block" }} />;
}

export default function App() {
  return (
    <div style={{ position: "fixed", left: 0, top: 0, width: 898, height: 443, overflow: "hidden", background: "#fff" }}>
      <Panel left={0} width={450} axisWidth={71} padRight={16} thin={[2, 4]} legendBox={[82, 13, 346, 78]} datasets={leftDatasets} titlePad={6} />
      <Panel left={450} width={480} axisWidth={83} padRight={34} thin={[]} legendBox={[93, 13, 345, 78]} datasets={rightDatasets} titlePad={18} />
    </div>
  );
}
